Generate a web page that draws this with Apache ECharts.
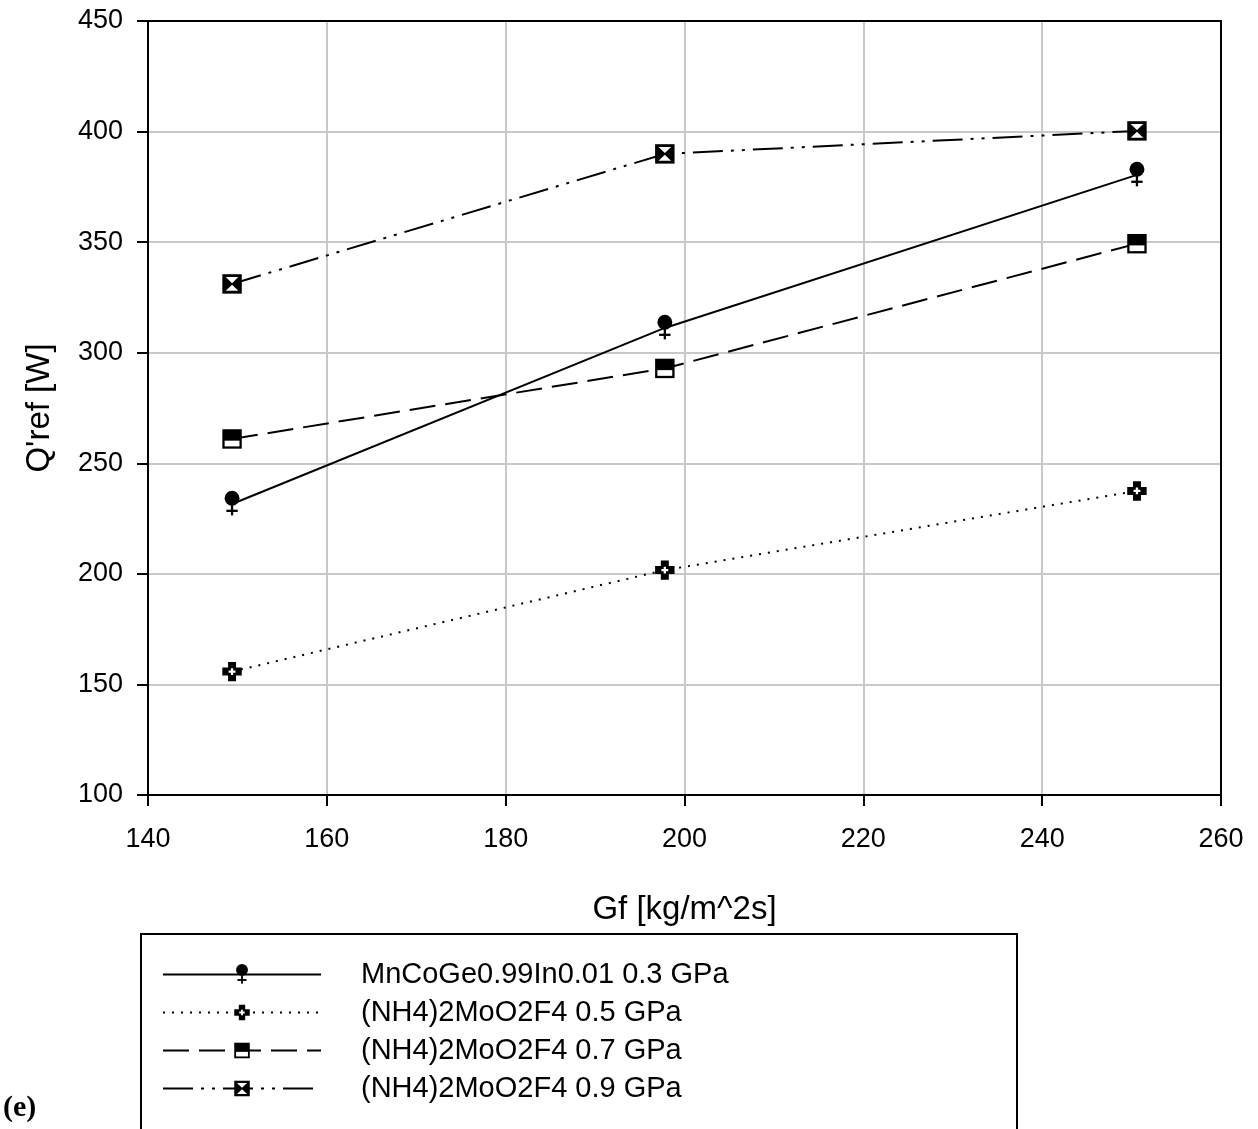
<!DOCTYPE html>
<html>
<head>
<meta charset="UTF-8">
<title>Q'ref vs Gf</title>
<script src="https://cdn.jsdelivr.net/npm/echarts@6/dist/echarts.min.js"></script>
<style>
html, body { margin: 0; padding: 0; background: #fff; }
#main { width: 1258px; height: 1129px; }
</style>
</head>
<body>
<div id="main"></div>
<script>
// data
var gf = [149.4, 197.8, 250.6];
var names = [
    'MnCoGe0.99In0.01 0.3 GPa',
    '(NH4)2MoO2F4 0.5 GPa',
    '(NH4)2MoO2F4 0.7 GPa',
    '(NH4)2MoO2F4 0.9 GPa'
];
var q03 = [231.6, 311.2, 380.4];
var q05 = [155.8, 201.7, 237.5];
var q07 = [261.0, 292.9, 349.3];
var q09 = [331.1, 389.9, 400.3];
var xRange = [140, 260, 20];
var yRange = [100, 450, 50];

function pairs(ys) {
    return gf.map(function (x, i) { return [x, ys[i]]; });
}

// marker glyphs (28x28 box, centred on the point)
function svgSymbol(body) {
    var s = '<svg xmlns="http://www.w3.org/2000/svg" width="28" height="28" viewBox="0 0 28 28">' + body + '</svg>';
    return 'image://data:image/svg+xml;charset=utf-8,' + encodeURIComponent(s);
}
var mkFemale = svgSymbol('<circle cx="14" cy="9" r="6.5" fill="#000"/>' +
    '<rect x="13" y="15" width="2" height="9" fill="#000"/>' +
    '<rect x="9" y="19" width="10" height="2" fill="#000"/>');
var mkCross = svgSymbol('<path d="M10.5 5.5h7v5h5v7h-5v5h-7v-5h-5v-7h5z" fill="#000"/>' +
    '<path d="M13 11h2v2h2v2h-2v2h-2v-2h-2v-2h2z" fill="#fff"/>');
var mkHalfSq = svgSymbol('<rect x="5.5" y="5.5" width="17" height="17" fill="#000"/>' +
    '<rect x="7.5" y="15.5" width="13" height="5" fill="#fff"/>');
var mkHourSq = svgSymbol('<rect x="5.5" y="5.5" width="17" height="17" fill="#000"/>' +
    '<path d="M8.5 8h11l-5.5 5.3z" fill="#fff"/>' +
    '<path d="M8.5 20h11l-5.5 -5.3z" fill="#fff"/>');

var font = '"Liberation Sans", Arial, sans-serif';
var chart = echarts.init(document.getElementById('main'), null, {renderer: 'canvas'});

function lineSeries(name, ys, mk, type) {
    return {
        name: name,
        type: 'line',
        data: pairs(ys),
        symbol: mk,
        symbolSize: 32,
        itemStyle: {color: '#000'},
        lineStyle: {color: '#000', width: 2, type: type},
        animation: false
    };
}

var option = {
    animation: false,
    backgroundColor: '#fff',
    grid: {left: 148, right: 37, top: 21, bottom: 334},
    xAxis: [{
        type: 'value',
        min: xRange[0], max: xRange[1], interval: xRange[2],
        name: 'Gf [kg/m^2s]',
        nameLocation: 'middle',
        nameGap: 98,
        nameTextStyle: {fontSize: 33, color: '#000', fontFamily: font},
        axisLine: {show: true, onZero: false, lineStyle: {color: '#000', width: 2}},
        axisTick: {show: true, length: 11, lineStyle: {color: '#000', width: 2}},
        axisLabel: {fontSize: 27, color: '#000', fontFamily: font, margin: 31},
        splitLine: {show: true, showMinLine: false, showMaxLine: false, lineStyle: {color: '#c8c8c8', width: 2}}
    }, {
        type: 'value', position: 'top',
        min: xRange[0], max: xRange[1],
        axisLine: {show: true, onZero: false, lineStyle: {color: '#000', width: 2}},
        axisTick: {show: false}, axisLabel: {show: false}, splitLine: {show: false}
    }],
    yAxis: [{
        type: 'value',
        min: yRange[0], max: yRange[1], interval: yRange[2],
        name: "Q'ref [W]",
        nameLocation: 'middle',
        nameGap: 92,
        nameTextStyle: {fontSize: 33, color: '#000', fontFamily: font},
        axisLine: {show: true, onZero: false, lineStyle: {color: '#000', width: 2}},
        axisTick: {show: true, length: 11, lineStyle: {color: '#000', width: 2}},
        axisLabel: {fontSize: 27, color: '#000', fontFamily: font, margin: 25},
        splitLine: {show: true, showMinLine: false, showMaxLine: false, lineStyle: {color: '#c8c8c8', width: 2}}
    }, {
        type: 'value', position: 'right',
        min: yRange[0], max: yRange[1],
        axisLine: {show: true, onZero: false, lineStyle: {color: '#000', width: 2}},
        axisTick: {show: false}, axisLabel: {show: false}, splitLine: {show: false}
    }],
    legend: {
        orient: 'vertical',
        left: 162,
        top: 960,
        padding: 0,
        itemWidth: 158,
        itemHeight: 32,
        itemGap: 9,
        data: names,
        textStyle: {fontSize: 29, color: '#000', fontFamily: font, padding: [0, 0, 0, 35]}
    },
    graphic: [{
        type: 'rect',
        shape: {x: 141, y: 934, width: 876, height: 260},
        style: {fill: 'none', stroke: '#000', lineWidth: 2}
    }, {
        type: 'text',
        left: 3, top: 1093,
        style: {text: '(e)', font: 'bold 30px "Liberation Serif", "Times New Roman", serif', fill: '#000'}
    }],
    series: [
        lineSeries(names[0], q03, mkFemale, 'solid'),
        lineSeries(names[1], q05, mkCross, [2, 7]),
        lineSeries(names[2], q07, mkHalfSq, [26, 10]),
        lineSeries(names[3], q09, mkHourSq, [30, 8, 3, 8, 3, 8])
    ]
};

chart.setOption(option);
</script>
</body>
</html>
